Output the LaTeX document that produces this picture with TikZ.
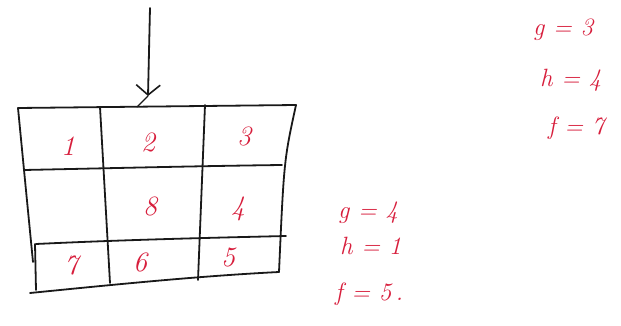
\documentclass[tikz,border=0pt]{standalone}
\usepackage{fontspec}
\usetikzlibrary{arrows.meta}
\definecolor{ink}{RGB}{215,30,60}
\definecolor{pen}{RGB}{25,25,25}
\tikzset{
  gridline/.style={draw=pen, line width=1.8pt, line cap=round, line join=round},
  digit/.style={text=ink, font=\fontsize{28}{32}\selectfont\itshape, inner sep=0pt},
  eqn/.style={text=ink, font=\fontsize{25}{29}\selectfont\itshape, inner sep=0pt, anchor=west},
}
\begin{document}
\begin{tikzpicture}[x=1pt,y=-1pt]
\useasboundingbox (0,0) rectangle (621,326);
% grid corners
\coordinate (tl) at (18,108);
\coordinate (tr) at (296,105);
\coordinate (bl) at (30,293);
\coordinate (br) at (279,272);
% outer lines
\draw[gridline] (tl) -- (tr);
\draw[gridline] (tl) .. controls (24,170) .. (33,262);
\draw[gridline] (tr) .. controls (284,160) .. (br);
\draw[gridline] (bl) .. controls (120,284) and (200,276) .. (br);
% inner horizontals
\draw[gridline] (24,170) .. controls (120,168) and (200,166) .. (282,165);
\draw[gridline] (36,244) .. controls (120,240) and (200,238) .. (286,236);
\draw[gridline] (35,244) -- (36,290);
% inner verticals
\draw[gridline] (100,107) -- (110,283);
\draw[gridline] (205,105) -- (198,280);
% arrow
\coordinate (src) at (150,8);
\coordinate (dst) at (148,96);
\draw[gridline, -{Straight Barb[length=10pt,width=24pt,line width=1.6pt]}] (src) -- (dst);
\draw[gridline, line width=1.4pt] (dst) -- (137,107);
% cell numbers
\node[digit] (c1) at (68,146) {1};
\node[digit] (c2) at (148,142) {2};
\node[digit] (c3) at (244,136) {3};
\node[digit] (c8) at (150,206) {8};
\node[digit] (c4) at (238,209) {4};
\node[digit] (c7) at (71,265) {7};
\node[digit] (c6) at (140,262) {6};
\node[digit] (c5) at (228,257) {5};
% annotations
\node[eqn] (g1) at (338,213) {g = 4};
\node[eqn] (h1) at (340,246) {h = 1};
\node[eqn] (f1) at (335,294) {f = 5\,.};
\node[eqn] (g2) at (533,30) {g = 3};
\node[eqn] (h2) at (540,80) {h = 4};
\node[eqn] (f2) at (548,128) {f = 7};
\end{tikzpicture}
\end{document}
